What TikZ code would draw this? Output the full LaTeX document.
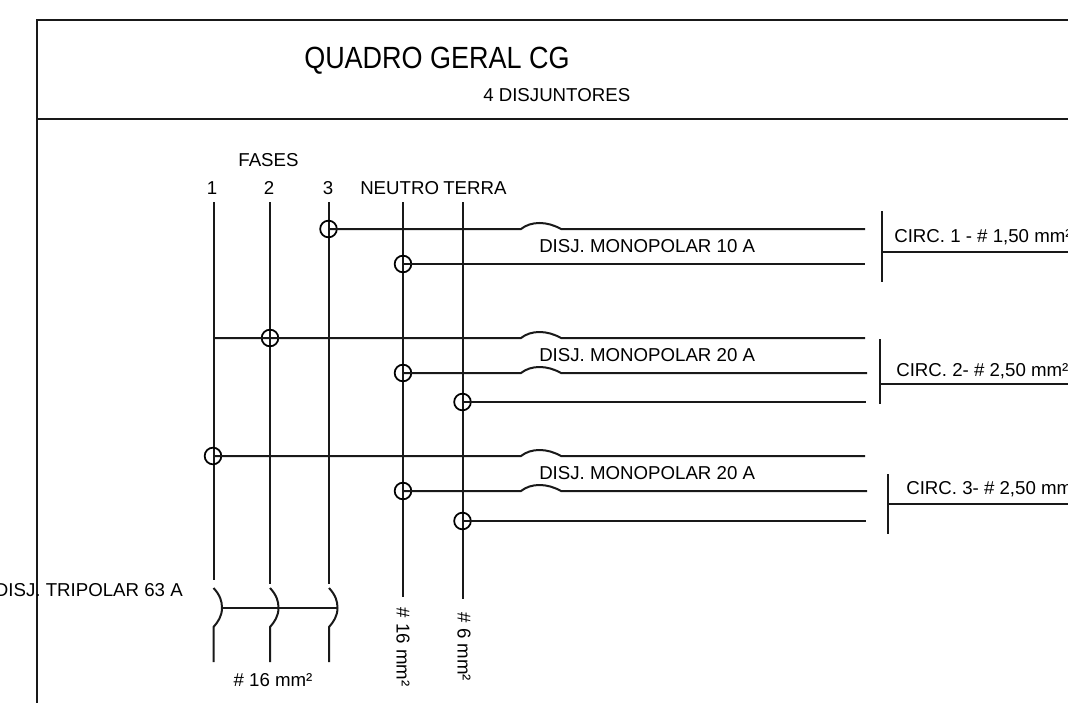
\documentclass[tikz,border=0pt]{standalone}
\usepackage{fontspec}
\setmainfont{Liberation Sans}
\tikzset{
  wire/.style={line width=1.5pt,line cap=butt,black!90},
  junction/.style={circle,draw,line width=1.3pt,minimum size=12.5pt,inner sep=0pt},
  lbl/.style={inner sep=0pt,font=\fontsize{14}{16}\selectfont,anchor=base west},
  lblc/.style={inner sep=0pt,font=\fontsize{14}{16}\selectfont,anchor=base},
  lblr/.style={inner sep=0pt,font=\fontsize{14}{16}\selectfont,anchor=base east},
  arcup/.style={to path={.. controls ++(10,-8) and ++(-14,-8) .. (\tikztotarget)}}
}
\begin{document}
\begin{tikzpicture}[x=0.75pt,y=-0.75pt]
\useasboundingbox (0,0) rectangle (1068,703);
% frame
\coordinate (f1) at (37,20); \coordinate (f2) at (1068,20);
\coordinate (f3) at (37,703); \coordinate (f4) at (37,119); \coordinate (f5) at (1068,119);
\draw[wire] (f3) -- (f1) -- (f2);
\draw[wire] (f4) -- (f5);
% titles
\node[inner sep=0pt,anchor=base west] (title) at (304,68) {\fontsize{23}{28}\selectfont\scalebox{0.88}[1]{QUADRO GERAL CG}};
\node[lbl] (sub) at (483,101) {4 DISJUNTORES};
\node[lblc] (fases) at (268.5,166) {FASES};
\node[lblc] (n1) at (212,194) {1};
\node[lblc] (n2) at (269,194) {2};
\node[lblc] (n3) at (328,194) {3};
\node[lbl] (neutro) at (360,194) {NEUTRO};
\node[lbl] (terra) at (443,194) {TERRA};
% bus tops and ends
\coordinate (t1) at (213.5,202); \coordinate (e1) at (213.5,580);
\coordinate (t2) at (270,202); \coordinate (e2) at (270,584);
\coordinate (t3) at (328.5,202); \coordinate (e3) at (328.5,584);
\coordinate (t4) at (403,202); \coordinate (e4) at (403,597);
\coordinate (t5) at (462.5,202); \coordinate (e5) at (462.5,599);
\draw[wire] (t1) -- (e1);
\draw[wire] (t2) -- (e2);
\draw[wire] (t3) -- (e3);
\draw[wire] (t4) -- (e4);
\draw[wire] (t5) -- (e5);
% junctions
\node[junction] (j1) at (328.5,229) {};
\node[junction] (j2) at (403,264) {};
\node[junction] (j3) at (270,338) {};
\node[junction] (j4) at (403,373) {};
\node[junction] (j5) at (462.5,402) {};
\node[junction] (j6) at (213,456) {};
\node[junction] (j7) at (403,491) {};
\node[junction] (j8) at (462.5,521) {};
\coordinate (s3) at (213.5,338);
% rows
\coordinate (a1) at (521,229); \coordinate (b1) at (561,229); \coordinate (r1) at (865,229);
\draw[wire] (j1.center) -- (a1) to[arcup] (b1) -- (r1);
\coordinate (r2) at (865,264);
\draw[wire] (j2.center) -- (r2);
\coordinate (a3) at (521,338); \coordinate (b3) at (561,338); \coordinate (r3) at (865,338);
\draw[wire] (s3) -- (a3) to[arcup] (b3) -- (r3);
\coordinate (a4) at (521,373); \coordinate (b4) at (561,373); \coordinate (r4) at (867,373);
\draw[wire] (j4.center) -- (a4) to[arcup] (b4) -- (r4);
\coordinate (r5) at (866,402);
\draw[wire] (j5.center) -- (r5);
\coordinate (a6) at (521,456); \coordinate (b6) at (561,456); \coordinate (r6) at (865,456);
\draw[wire] (j6.center) -- (a6) to[arcup] (b6) -- (r6);
\coordinate (a7) at (521,491); \coordinate (b7) at (561,491); \coordinate (r7) at (867,491);
\draw[wire] (j7.center) -- (a7) to[arcup] (b7) -- (r7);
\coordinate (r8) at (866,521);
\draw[wire] (j8.center) -- (r8);
\node[lbl] (d1) at (539,252) {DISJ. MONOPOLAR 10 A};
\node[lbl] (d2) at (539,361) {DISJ. MONOPOLAR 20 A};
\node[lbl] (d3) at (539,479) {DISJ. MONOPOLAR 20 A};
% circuit bars
\coordinate (c1a) at (881.5,211); \coordinate (c1b) at (881.5,282); \coordinate (c1m) at (881.5,252); \coordinate (c1e) at (1068,252);
\draw[wire] (c1a) -- (c1b); \draw[wire] (c1m) -- (c1e);
\coordinate (c2a) at (879.5,339); \coordinate (c2b) at (879.5,404); \coordinate (c2m) at (879.5,384); \coordinate (c2e) at (1068,384);
\draw[wire] (c2a) -- (c2b); \draw[wire] (c2m) -- (c2e);
\coordinate (c3a) at (888,474); \coordinate (c3b) at (888,534); \coordinate (c3m) at (888,504); \coordinate (c3e) at (1068,504);
\draw[wire] (c3a) -- (c3b); \draw[wire] (c3m) -- (c3e);
\node[lbl] (cl1) at (894,242) {CIRC. 1 - \# 1,50 mm²};
\node[lbl] (cl2) at (896,376) {CIRC. 2- \# 2,50 mm²};
\node[lbl] (cl3) at (906,494) {CIRC. 3- \# 2,50 mm²};
% tripolar breaker
\coordinate (p1a) at (213.5,588); \coordinate (p1m) at (222,608); \coordinate (p1b) at (213.5,627); \coordinate (p1e) at (213.5,662);
\coordinate (p2a) at (270,588); \coordinate (p2m) at (278.5,608); \coordinate (p2b) at (270,627); \coordinate (p2e) at (270,662);
\coordinate (p3a) at (329,588); \coordinate (p3m) at (337.5,608); \coordinate (p3b) at (329,627); \coordinate (p3e) at (329,662);
\draw[wire] (p1a) .. controls (220,595) and (222,601) .. (p1m) .. controls (222,616) and (218,622) .. (p1b) -- (p1e);
\draw[wire] (p2a) .. controls (276.5,595) and (278.5,601) .. (p2m) .. controls (278.5,616) and (274.5,622) .. (p2b) -- (p2e);
\draw[wire] (p3a) .. controls (335.5,595) and (337.5,601) .. (p3m) .. controls (337.5,616) and (333.5,622) .. (p3b) -- (p3e);
\draw[wire] (p1m) -- (p2m) -- (p3m);
\node[lblr] (trip) at (183,596) {DISJ. TRIPOLAR 63 A};
\node[lblc] (w16) at (273,686) {\# 16 mm²};
\node[inner sep=0pt,font=\fontsize{14}{16}\selectfont,rotate=-90] (w16b) at (403,647) {\# 16 mm²};
\node[inner sep=0pt,font=\fontsize{14}{16}\selectfont,rotate=-90] (w6b) at (464,647) {\# 6 mm²};
\end{tikzpicture}
\end{document}
